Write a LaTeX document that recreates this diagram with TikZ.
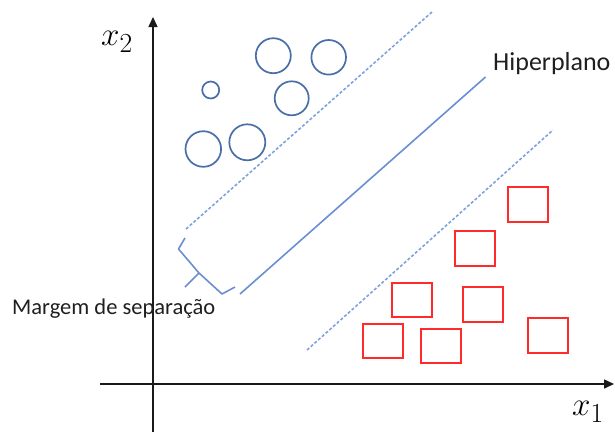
\documentclass[tikz,border=0pt]{standalone}
\usepackage{fontspec}
\setmainfont{Carlito}
\usetikzlibrary{arrows.meta}
\definecolor{circblue}{HTML}{4A6EA8}
\definecolor{lineblue}{HTML}{6A8ED4}
\definecolor{dashblue}{HTML}{7FA2DE}
\definecolor{sqred}{HTML}{FF2A2A}
\definecolor{axisgray}{HTML}{1A1A1A}
\tikzset{
  dot/.style={circle, draw=circblue, line width=1.7pt, inner sep=0pt},
  sq/.style={rectangle, draw=sqred, line width=1.9pt, inner sep=0pt, minimum width=40pt, minimum height=34.5pt},
  axisline/.style={draw=axisgray, line width=1.5pt, -{Triangle[length=10pt,width=9pt]}},
  hyper/.style={draw=lineblue, line width=1.6pt},
  margin/.style={draw=dashblue, line width=1.6pt, dash pattern=on 3pt off 2pt},
  bracestyle/.style={draw=lineblue, line width=1.6pt, line join=round},
  lbl/.style={inner sep=0pt, text=black!88},
  axlbl/.style={inner sep=0pt, font=\Huge, scale=1.33}
}
\begin{document}
\begin{tikzpicture}[x=1pt, y=-1pt]
\useasboundingbox (0,0) rectangle (615,432);
% axes
\coordinate (xs) at (100,384);
\coordinate (xe) at (614,384);
\coordinate (ys) at (153,432);
\coordinate (ye) at (153,17);
\draw[axisline] (xs) -- (xe);
\draw[axisline] (ys) -- (ye);
\node[axlbl] (xtwo) at (117,42) {$x_2$};
\node[axlbl] (xone) at (588,412) {$x_1$};
% circles
\node[dot, minimum size=17pt] (c1) at (210.7,90) {};
\node[dot, minimum size=35pt] (c2) at (273.3,55.7) {};
\node[dot, minimum size=34.6pt] (c3) at (328.7,57.3) {};
\node[dot, minimum size=34pt] (c4) at (291.7,98.3) {};
\node[dot, minimum size=35.6pt] (c5) at (203.3,149) {};
\node[dot, minimum size=36pt] (c6) at (247.3,142.3) {};
% squares
\node[sq] (s1) at (528.3,204.5) {};
\node[sq] (s2) at (475.3,248.3) {};
\node[sq] (s3) at (411.8,299.8) {};
\node[sq] (s4) at (483.3,304.5) {};
\node[sq] (s5) at (382.7,340.8) {};
\node[sq] (s6) at (440.8,346) {};
\node[sq] (s7) at (548.2,335.3) {};
% hyperplane and margins
\coordinate (h1) at (240,294);
\coordinate (h2) at (485.5,77);
\coordinate (u1) at (186,229);
\coordinate (u2) at (432,12);
\coordinate (l1) at (307,350);
\coordinate (l2) at (553,130);
\draw[hyper] (h1) -- (h2);
\draw[margin] (u1) -- (u2);
\draw[margin] (l1) -- (l2);
% brace
\coordinate (b1) at (185,238);
\coordinate (b2) at (178.5,249);
\coordinate (bm) at (199,273);
\coordinate (bt) at (185,287);
\coordinate (b3) at (222,294);
\coordinate (b4) at (235,287);
\draw[bracestyle] (b1) -- (b2) -- (bm) -- (b3) -- (b4);
\draw[bracestyle] (bm) -- (bt);
% labels
\node[lbl, anchor=base west, font=\fontsize{22.5}{26}\selectfont] (marg) at (12,314) {Margem de separação};
\node[lbl, anchor=base west, font=\fontsize{26}{30}\selectfont] (hip) at (493,70) {Hiperplano};
\end{tikzpicture}
\end{document}
